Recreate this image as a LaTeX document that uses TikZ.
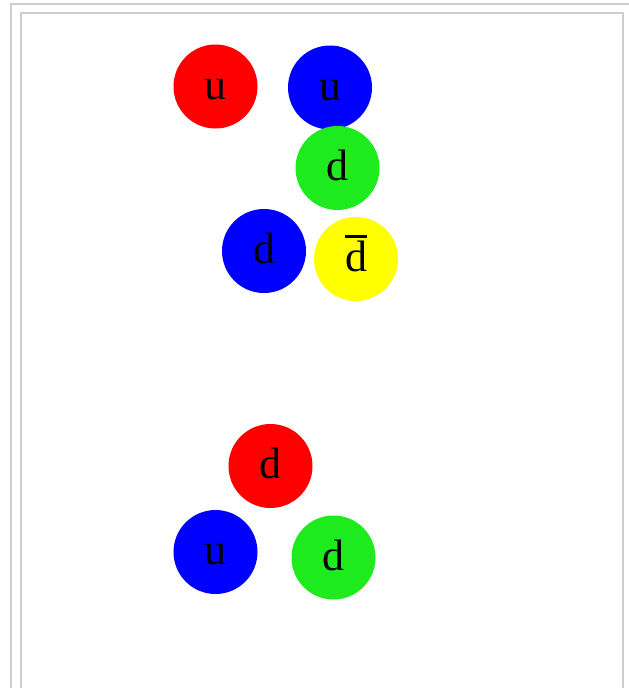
\documentclass[tikz,border=0pt]{standalone}
\usepackage{fontspec}
\setmainfont{Liberation Serif}
\usepackage{xcolor}
\usepackage{tikz}
\definecolor{framegray}{RGB}{205,205,205}
\definecolor{qred}{RGB}{255,0,0}
\definecolor{qblue}{RGB}{0,0,255}
\definecolor{qgreen}{RGB}{30,235,30}
\definecolor{qyellow}{RGB}{255,255,0}

\begin{document}
\begin{tikzpicture}[x=1pt, y=-1pt,
  quark/.style={circle, minimum size=84pt, inner sep=0pt, text height=25pt, text depth=0pt,
    font=\fontsize{44}{48}\selectfont},
  frameline/.style={draw=framegray, line width=2pt}]
  \useasboundingbox (0,0) rectangle (629,688);
  % page frames
  \draw[frameline] (629,4) -- (11,4) -- (11,688);
  \draw[frameline] (20.5,688) -- (20.5,12.5) -- (623,12.5) -- (623,688);
  % meson-baryon pair
  \node[quark, fill=qred] (ured) at (215.5,86.5) {u};
  \node[quark, fill=qblue] (ublue) at (330,87.5) {u};
  \node[quark, fill=qgreen] (dgreen) at (337.5,168) {d};
  \node[quark, fill=qblue] (dblue) at (264,251) {d};
  \node[quark, fill=qyellow] (dbar) at (356,259) {\vbox{\hrule height 3pt\kern 3pt\hbox{d}}};
  % neutron
  \node[quark, fill=qred] (nd1) at (270.5,466) {d};
  \node[quark, fill=qblue] (nu) at (215.5,552) {u};
  \node[quark, fill=qgreen] (nd2) at (333.5,557.5) {d};
\end{tikzpicture}
\end{document}
